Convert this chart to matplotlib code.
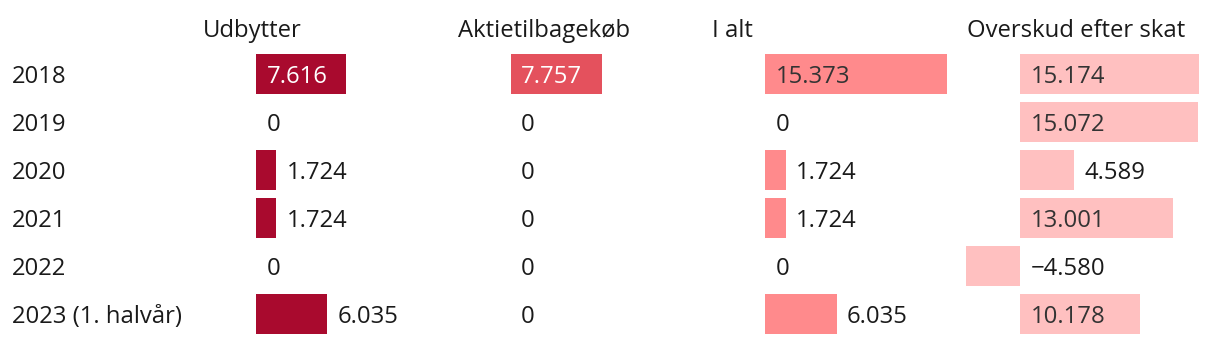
import matplotlib.pyplot as plt

plt.rcParams['font.family'] = ['Open Sans', 'DejaVu Sans']

# DATA (mio. kr.)
years = ['2018', '2019', '2020', '2021', '2022', '2023 (1. halvår)']
columns = ['Udbytter', 'Aktietilbagekøb', 'I alt', 'Overskud efter skat']
udbytter = [7616, 0, 1724, 1724, 0, 6035]
aktietilbagekob = [7757, 0, 0, 0, 0, 0]
i_alt = [15373, 0, 1724, 1724, 0, 6035]
overskud = [15174, 15072, 4589, 13001, -4580, 10178]

series = [udbytter, aktietilbagekob, i_alt, overskud]
colors = ['#a90a2e', '#e4515d', '#ff8a8c', '#ffc0c0']
inside_colors = ['white', 'white', '#333333', '#333333']

W, H = 1220, 344
fig = plt.figure(figsize=(W / 100, H / 100), dpi=100)

lo = min(min(s) for s in series)
hi = max(max(s) for s in series)
px_per_unit = 11.8 / 1000
col_w = (hi - lo) * px_per_unit
top, row_h = 50, 48
FS = 17.2


def fmt(v):
    s = f'{abs(v):,}'.replace(',', '.')
    return ('\u2212' + s) if v < 0 else s


for i, (name, vals) in enumerate(zip(columns, series)):
    x0 = 202 + 254.67 * i
    ax = fig.add_axes([x0 / W, 1 - (top + row_h * len(years)) / H,
                       col_w / W, row_h * len(years) / H])
    ax.barh(range(len(vals)), vals, height=40 / 48, color=colors[i])
    ax.set_xlim(lo, hi)
    ax.set_ylim(len(vals) - 0.5, -0.5)
    ax.axis('off')
    pad = 10.5 / px_per_unit
    for j, v in enumerate(vals):
        if v > 6500:
            ax.text(pad, j, fmt(v), va='center_baseline', ha='left',
                    fontsize=FS, color=inside_colors[i])
        else:
            ax.text(max(v, 0) + pad, j, fmt(v), va='center_baseline',
                    ha='left', fontsize=FS, color='#1a1a1a')
    fig.text((x0 + 1) / W, 1 - 28 / H, name, va='center_baseline',
             ha='left', fontsize=FS, color='#1a1a1a')

for j, y in enumerate(years):
    fig.text(12 / W, 1 - (top + row_h * j + row_h / 2) / H, y,
             va='center_baseline', ha='left', fontsize=FS, color='#1a1a1a')

fig.savefig('out.png', dpi=100)
